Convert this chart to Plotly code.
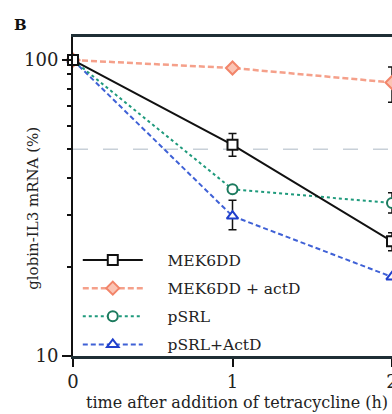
import plotly.graph_objects as go

# ---- data ----
time_h = [0, 1, 2]
mek6dd = [100, 51.7, 24.4]
mek6dd_err_up = [0, 4.8, 1.7]
mek6dd_err_dn = [0, 4.4, 1.7]

mek6dd_actd = [100, 94, 84]
mek6dd_actd_err_up = [0, 0, 10.8]
mek6dd_actd_err_dn = [0, 0, 12]

psrl = [100, 36.6, 32.9]
psrl_err_up = [0, 0, 2.7]
psrl_err_dn = [0, 0, 2.5]

psrl_actd = [100, 29.7, 18.5]
psrl_actd_err_up = [0, 3.9, 0]
psrl_actd_err_dn = [0, 3.0, 0]

series_names = ["MEK6DD", "MEK6DD + actD", "pSRL", "pSRL+ActD"]
x_tick_vals = [0, 1, 2]
y_tick_vals = [10, 100]
y_minor_vals = [20, 30, 40, 50, 60, 70, 80, 90]
ref_level = 50

FONT = "DejaVu Serif, serif"
PAD = "&nbsp;&nbsp;&nbsp;&nbsp;"

def err(up, dn):
    return dict(type="data", array=up, arrayminus=dn, symmetric=False,
                color="#111", thickness=1.5, width=4)

fig = go.Figure()

# drawn bottom-to-top so MEK6DD sits on top at t=0
fig.add_trace(go.Scatter(
    x=time_h, y=psrl_actd, name=PAD + series_names[3], legendgroup="d", legendrank=4,
    mode="lines+markers", cliponaxis=False,
    line=dict(color="#3f61d6", width=2, dash="5px,3px"),
    marker=dict(symbol="triangle-up", size=10, color="white",
                line=dict(width=2, color="#1f3fcc")),
    error_y=err(psrl_actd_err_up, psrl_actd_err_dn)))

fig.add_trace(go.Scatter(
    x=time_h, y=psrl, name=PAD + series_names[2], legendgroup="c", legendrank=3,
    mode="lines+markers", cliponaxis=False,
    line=dict(color="#1f9a7c", width=2, dash="3px,3px"),
    marker=dict(symbol="circle", size=10, color="white",
                line=dict(width=2, color="#1c7a5e")),
    error_y=err(psrl_err_up, psrl_err_dn)))

fig.add_trace(go.Scatter(
    x=time_h, y=mek6dd_actd, name=PAD + series_names[1], legendgroup="b", legendrank=2,
    mode="lines+markers", cliponaxis=False,
    line=dict(color="#f5a08a", width=2.5, dash="6px,3px"),
    marker=dict(symbol="diamond", size=10, color="#fbc4b4",
                line=dict(width=2, color="#f2856a")),
    error_y=err(mek6dd_actd_err_up, mek6dd_actd_err_dn)))

fig.add_trace(go.Scatter(
    x=time_h, y=mek6dd, name=PAD + series_names[0], legendgroup="a", legendrank=1,
    mode="lines+markers", cliponaxis=False,
    line=dict(color="#111", width=2, dash="solid"),
    marker=dict(symbol="square", size=10, color="white", line=dict(width=2, color="#111")),
    error_y=err(mek6dd_err_up, mek6dd_err_dn)))

fig.add_shape(type="line", xref="paper", x0=0, x1=1, yref="y", y0=ref_level, y1=ref_level,
              line=dict(color="#c8d0d8", width=1.5, dash="longdash"), layer="below")

fig.add_annotation(text="<b>B</b>", xref="paper", yref="paper", x=-0.19, y=1.003,
                   xanchor="left", yanchor="bottom", showarrow=False,
                   font=dict(family=FONT, size=15, color="#111"))

fig.add_annotation(text="globin-IL3 mRNA (%)", xref="paper", yref="paper",
                   x=-0.128, y=0.462, xanchor="center", yanchor="middle",
                   textangle=-90, showarrow=False,
                   font=dict(family=FONT, size=15, color="#222"))

fig.add_annotation(text="time after addition of tetracycline (h)", xref="paper", yref="paper",
                   x=0.514, y=-0.1455, xanchor="center", yanchor="middle",
                   showarrow=False,
                   font=dict(family=FONT, size=16, color="#222"))

fig.update_layout(
    width=392, height=414,
    margin=dict(l=73, r=0, t=37, b=57.5),
    paper_bgcolor="white", plot_bgcolor="white",
    font=dict(family=FONT, size=16, color="#222"),
    showlegend=True,
    legend=dict(x=0.015, y=-0.017, xanchor="left", yanchor="bottom",
                bgcolor="rgba(0,0,0,0)", font=dict(family=FONT, size=15.5, color="#222"),
                itemwidth=60, tracegroupgap=5, traceorder="grouped"),
    xaxis=dict(range=[0, 2.0], tickvals=x_tick_vals, ticks="outside", ticklen=8,
               tickwidth=1.5, tickcolor="#111", showline=True, linecolor="#1f2f35",
               linewidth=2.5, mirror=True, showgrid=False, zeroline=False,
               automargin=False, ticklabeloverflow="allow", tickfont=dict(size=18)),
    yaxis=dict(type="log", range=[1, 2.078], tickvals=y_tick_vals, ticktext=["10", "100"],
               ticks="outside", ticklen=9, tickwidth=1.5, tickcolor="#111",
               showline=True, linecolor="#111", linewidth=2, showgrid=False, zeroline=False,
               automargin=False,
               minor=dict(tickvals=y_minor_vals, ticks="outside", ticklen=4,
                          tickwidth=1.5, tickcolor="#111", showgrid=False),
               tickfont=dict(size=18)),
)

fig.write_html("out.html",
               config={"displayModeBar": False},
               post_script="document.body.style.margin='0px';"
                           "document.body.style.overflow='hidden';")
